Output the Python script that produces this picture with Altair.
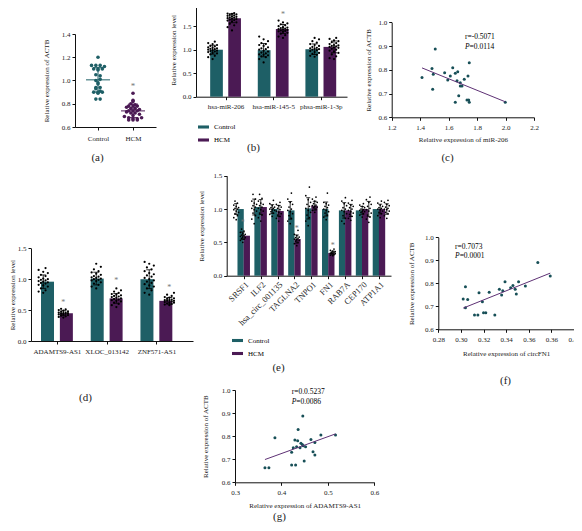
import json
import altair as alt
import numpy as np
import pandas as pd

W, H, M = 566, 515, 8
TEAL, PURPLE = "#1e5f66", "#4b1a54"
DOT, LINE = "#174f57", "#5e3175"
STAR = "#777777"
FONT = "Liberation Serif"
GROUPS = ["Control", "HCM"]

# ---------------- data ----------------
# (a) ACTB dot plot
A_control = [1.20, 1.13, 1.13, 1.13, 1.12, 1.10, 1.10, 1.09, 1.10, 1.05, 1.04, 1.00, 1.01,
             0.98, 0.97, 0.94, 0.93, 0.94, 0.90, 0.90, 0.91, 0.90, 0.89, 0.84, 0.84]
A_hcm = [0.89, 0.83, 0.82, 0.80, 0.79, 0.78, 0.78, 0.77, 0.78, 0.76, 0.76, 0.75, 0.74, 0.74,
         0.73, 0.74, 0.72, 0.72, 0.71, 0.70, 0.69, 0.68, 0.67, 0.67, 0.68, 0.66, 0.66, 0.66]
A_star = 0.955

# (b) miRNAs
B_genes = ["hsa-miR-206", "hsa-miR-145-5", "phsa-miR-1-3p"]
B_ctrl_bar = [1.00, 0.99, 1.01]
B_hcm_bar = [1.67, 1.44, 1.06]
B_ctrl_pts = [
    [1.17, 1.14, 1.12, 1.10, 1.08, 1.07, 1.05, 1.04, 1.03, 1.02, 1.01, 1.00, 0.99, 0.98, 0.97, 0.96, 0.95, 0.93, 0.92, 0.90, 0.87, 0.84, 0.80],
    [1.28, 1.22, 1.18, 1.14, 1.12, 1.10, 1.08, 1.05, 1.03, 1.01, 1.00, 0.98, 0.96, 0.94, 0.92, 0.90, 0.89, 0.88, 0.86, 0.84, 0.80, 0.73],
    [1.25, 1.22, 1.18, 1.15, 1.12, 1.10, 1.08, 1.06, 1.04, 1.03, 1.02, 1.01, 1.00, 0.99, 0.97, 0.95, 0.93, 0.91, 0.89, 0.87, 0.85],
]
B_hcm_pts = [
    [1.78, 1.77, 1.76, 1.75, 1.74, 1.73, 1.72, 1.71, 1.70, 1.69, 1.68, 1.67, 1.66, 1.65, 1.64, 1.63, 1.62, 1.60, 1.58, 1.55, 1.52, 1.48, 1.41],
    [1.62, 1.58, 1.56, 1.54, 1.52, 1.50, 1.48, 1.47, 1.46, 1.45, 1.44, 1.43, 1.42, 1.41, 1.40, 1.39, 1.38, 1.36, 1.34, 1.31, 1.28, 1.25],
    [1.25, 1.23, 1.20, 1.18, 1.16, 1.14, 1.12, 1.10, 1.09, 1.08, 1.07, 1.06, 1.05, 1.04, 1.02, 1.00, 0.98, 0.96, 0.93, 0.90, 0.86, 0.82, 0.80],
]
B_stars = [1.88, 1.74, None]

# (c) scatter miR-206 vs ACTB
C_x = [1.506, 1.413, 1.483, 1.492, 1.488, 1.572, 1.612, 1.629, 1.647, 1.664, 1.594, 1.659,
       1.682, 1.682, 1.694, 1.710, 1.736, 1.745, 1.671, 1.647, 1.729, 1.741, 1.745, 1.998]
C_y = [0.888, 0.768, 0.806, 0.781, 0.718, 0.788, 0.774, 0.809, 0.785, 0.792, 0.757, 0.754,
       0.746, 0.732, 0.732, 0.760, 0.774, 0.830, 0.691, 0.663, 0.673, 0.673, 0.663, 0.663]
C_r, C_p = "r=-0.5071", "=0.0114"

# (d) lncRNAs
D_genes = ["ADAMTS9-AS1", "XLOC_013142", "ZNF571-AS1"]
D_ctrl_bar = [0.96, 1.01, 1.00]
D_hcm_bar = [0.45, 0.69, 0.65]
D_ctrl_pts = [
    [1.18, 1.15, 1.12, 1.10, 1.07, 1.05, 1.03, 1.01, 1.00, 0.99, 0.98, 0.97, 0.96, 0.95, 0.94, 0.93, 0.91, 0.90, 0.88, 0.85, 0.82, 0.80, 0.78],
    [1.25, 1.20, 1.16, 1.13, 1.11, 1.09, 1.07, 1.05, 1.04, 1.03, 1.02, 1.01, 1.00, 0.99, 0.98, 0.97, 0.95, 0.93, 0.91, 0.88, 0.85],
    [1.28, 1.25, 1.22, 1.19, 1.16, 1.13, 1.10, 1.08, 1.06, 1.04, 1.02, 1.00, 0.98, 0.96, 0.94, 0.92, 0.90, 0.88, 0.85, 0.82, 0.78, 0.75],
]
D_hcm_pts = [
    [0.52, 0.51, 0.50, 0.49, 0.48, 0.47, 0.46, 0.46, 0.45, 0.45, 0.44, 0.44, 0.43, 0.43, 0.42, 0.41, 0.40, 0.39, 0.38],
    [0.85, 0.82, 0.80, 0.78, 0.76, 0.75, 0.74, 0.73, 0.72, 0.71, 0.70, 0.69, 0.68, 0.67, 0.66, 0.65, 0.64, 0.62, 0.60, 0.58, 0.55],
    [0.78, 0.75, 0.73, 0.71, 0.70, 0.69, 0.68, 0.67, 0.66, 0.66, 0.65, 0.65, 0.64, 0.63, 0.62, 0.62, 0.61, 0.60, 0.59, 0.58],
]
D_stars = [0.61, 0.97, 0.86]

# (e) circRNA host genes
E_genes = ["SRSF1", "ILF2", "hsa_circ_001135", "TAGLNA2", "TNPO1", "FN1", "RAB7A", "CEP170", "ATP1A1"]
E_ctrl_bar = [1.00, 1.03, 1.00, 0.98, 1.01, 1.00, 0.98, 0.98, 1.00]
E_hcm_bar = [0.60, 1.03, 0.97, 0.55, 1.05, 0.34, 0.98, 1.00, 1.00]
E_ctrl_pts = [
    [1.12, 1.09, 1.06, 1.04, 1.02, 1.01, 1.00, 0.99, 0.97, 0.95, 0.93, 0.90, 0.87, 0.84],
    [1.22, 1.15, 1.12, 1.09, 1.07, 1.05, 1.03, 1.01, 0.99, 0.97, 0.94, 0.90, 0.85, 0.78],
    [1.13, 1.08, 1.05, 1.03, 1.02, 1.01, 1.00, 0.99, 0.98, 0.96, 0.94, 0.92, 0.89],
    [1.24, 1.15, 1.10, 1.07, 1.03, 1.00, 0.98, 0.96, 0.93, 0.90, 0.86, 0.82, 0.78],
    [1.33, 1.20, 1.14, 1.10, 1.07, 1.04, 1.01, 0.98, 0.95, 0.91, 0.87, 0.82, 0.75],
    [1.24, 1.10, 1.08, 1.06, 1.04, 1.02, 1.00, 0.98, 0.96, 0.94, 0.91, 0.88, 0.84],
    [1.17, 1.12, 1.08, 1.05, 1.02, 1.00, 0.98, 0.96, 0.93, 0.90, 0.86, 0.82, 0.78],
    [1.08, 1.06, 1.04, 1.02, 1.00, 0.99, 0.98, 0.97, 0.96, 0.95, 0.93, 0.91, 0.88],
    [1.12, 1.09, 1.06, 1.04, 1.02, 1.01, 1.00, 0.99, 0.97, 0.95, 0.93, 0.90, 0.87],
]
E_hcm_pts = [
    [0.70, 0.67, 0.65, 0.63, 0.62, 0.61, 0.60, 0.59, 0.58, 0.57, 0.56, 0.55, 0.53, 0.50],
    [1.22, 1.16, 1.12, 1.09, 1.07, 1.05, 1.03, 1.01, 0.99, 0.97, 0.94, 0.91, 0.87, 0.82],
    [1.10, 1.07, 1.05, 1.03, 1.01, 0.99, 0.97, 0.95, 0.93, 0.91, 0.89, 0.86, 0.82],
    [0.68, 0.62, 0.60, 0.58, 0.57, 0.56, 0.55, 0.54, 0.53, 0.52, 0.50, 0.48, 0.45],
    [1.18, 1.15, 1.12, 1.10, 1.08, 1.06, 1.05, 1.04, 1.03, 1.02, 1.00, 0.98, 0.95],
    [0.40, 0.38, 0.37, 0.36, 0.35, 0.35, 0.34, 0.34, 0.33, 0.33, 0.32, 0.31, 0.30],
    [1.13, 1.09, 1.06, 1.04, 1.02, 1.00, 0.98, 0.96, 0.94, 0.92, 0.89, 0.86, 0.83],
    [1.18, 1.14, 1.10, 1.07, 1.04, 1.01, 0.99, 0.97, 0.94, 0.91, 0.88, 0.85, 0.80],
    [1.13, 1.10, 1.07, 1.05, 1.03, 1.01, 1.00, 0.99, 0.97, 0.95, 0.93, 0.90, 0.86],
]
E_stars = [0.79, None, None, 0.70, None, 0.45, None, None, None]

# (f) scatter circFN1 vs ACTB
F_x = [0.368, 0.379, 0.304, 0.302, 0.306, 0.304, 0.312, 0.315, 0.320, 0.322, 0.330, 0.316,
       0.319, 0.325, 0.334, 0.336, 0.337, 0.339, 0.344, 0.346, 0.348, 0.349, 0.351, 0.357]
F_y = [0.890, 0.832, 0.785, 0.732, 0.730, 0.694, 0.662, 0.662, 0.672, 0.672, 0.662, 0.759,
       0.720, 0.761, 0.774, 0.749, 0.768, 0.807, 0.781, 0.790, 0.774, 0.753, 0.807, 0.788]
F_ticks = [0.28, 0.30, 0.32, 0.34, 0.36, 0.38, 0.40]
F_ticklabels = ["0.28", "0.30", "0.32", "0.34", "0.36", "0.36", "0.40"]
F_r, F_p = "r=0.7073", "=0.0001"

# (g) scatter ADAMTS9-AS1 vs ACTB
G_x = [0.3645, 0.373, 0.386, 0.422, 0.4305, 0.422, 0.4255, 0.429, 0.435, 0.436, 0.446, 0.4327,
       0.440, 0.442, 0.445, 0.447, 0.452, 0.449, 0.4635, 0.472, 0.468, 0.472, 0.485, 0.5165]
G_y = [0.663, 0.663, 0.793, 0.675, 0.675, 0.730, 0.750, 0.783, 0.780, 0.829, 0.887, 0.754,
       0.750, 0.769, 0.764, 0.758, 0.754, 0.692, 0.786, 0.773, 0.732, 0.718, 0.805, 0.805]
G_r, G_p = "r=0.0.5237", "=0.0086"

CAPTIONS = ["(a)", "(b)", "(c)", "(d)", "(e)", "(f)", "(g)"]


# ---------------- helpers ----------------
def vx(p):
    return p - M


def vy(p):
    return p - M


def bin_swarm(vals, binw, step):
    vals = np.asarray(vals, float)
    keys = np.round(vals / binw).astype(int)
    off = np.zeros(len(vals))
    for k in np.unique(keys):
        idx = np.where(keys == k)[0]
        n = len(idx)
        off[idx] = (np.arange(n) - (n - 1) / 2) * step
    return off


def cyc_swarm(vals, step):
    pattern = [0, -2, 1, -1, 2]
    order = np.argsort(vals)
    off = np.zeros(len(vals))
    for r, i in enumerate(order):
        off[i] = pattern[r % len(pattern)] * step
    return off


def xaxis(axis_page_y, **kw):
    return alt.Axis(orient="bottom", offset=vy(axis_page_y) - H, grid=False, tickSize=3, **kw)


def yaxis(axis_page_x, **kw):
    return alt.Axis(orient="left", offset=-vx(axis_page_x), grid=False, tickSize=3, **kw)


def cat_expr(names):
    return "[" + ",".join(json.dumps(n) for n in names) + "][round(datum.value)]"


def caption(label, cx, cy):
    return alt.Chart(pd.DataFrame({"c": [0]})).mark_point(opacity=0).encode(
        x=alt.X("c:Q", axis=alt.Axis(orient="bottom", offset=0, domain=False, ticks=False,
                                      labels=False, grid=False, title=label,
                                      titleX=vx(cx), titleY=vy(cy) - H,
                                      titleBaseline="middle", titleFontSize=11))
    )


def one_row(**kw):
    return pd.DataFrame({k: [v] for k, v in kw.items()})


color_scale = alt.Scale(domain=GROUPS, range=[TEAL, PURPLE])


# ---------------- panel (a) ----------------
def panel_a():
    left, right, c0, step = 75, 156, 98, 35
    bottom, top = 127, 34
    xs = alt.Scale(domain=[(left - c0) / step, (right - c0) / step], range=[vx(left), vx(right)], nice=False, zero=False)
    ys = alt.Scale(domain=[0.6, 1.4], range=[vy(bottom), vy(top)], nice=False, zero=False)
    rows, stats = [], []
    for gi, vals in enumerate([A_control, A_hcm]):
        offs = bin_swarm(vals, 0.02, 4.3 / step)
        for v, o in zip(vals, offs):
            rows.append({"g": GROUPS[gi], "x": gi + o, "v": v})
        m, s = float(np.mean(vals)), float(np.std(vals, ddof=1))
        stats.append({"g": GROUPS[gi], "x": gi, "m": m, "lo": m - s, "hi": m + s,
                      "ml": gi - 12 / step, "mr": gi + 12 / step,
                      "cl": gi - 5 / step, "cr": gi + 5 / step})
    df, st = pd.DataFrame(rows), pd.DataFrame(stats)
    col = alt.Color("g:N", scale=color_scale, legend=None)
    pts = alt.Chart(df).mark_circle(size=13, opacity=1).encode(
        x=alt.X("x:Q", scale=xs, axis=xaxis(bottom, values=[0, 1], labelExpr=cat_expr(GROUPS), title=None, labelPadding=4)),
        y=alt.Y("v:Q", scale=ys, axis=yaxis(left, values=[0.6, 0.8, 1.0, 1.2, 1.4], format=".1f",
                                             title="Relative expression of ACTB", titleX=46 - left,
                                             titleBaseline="middle")),
        color=col,
    )
    mean = alt.Chart(st).mark_rule(strokeWidth=1).encode(
        x=alt.X("ml:Q", scale=xs, axis=None), x2="mr:Q", y=alt.Y("m:Q", scale=ys, axis=None), color=col)
    sd = alt.Chart(st).mark_rule(strokeWidth=1).encode(
        x=alt.X("x:Q", scale=xs, axis=None), y=alt.Y("lo:Q", scale=ys, axis=None), y2="hi:Q", color=col)
    cap_lo = alt.Chart(st).mark_rule(strokeWidth=1).encode(
        x=alt.X("cl:Q", scale=xs, axis=None), x2="cr:Q", y=alt.Y("lo:Q", scale=ys, axis=None), color=col)
    cap_hi = alt.Chart(st).mark_rule(strokeWidth=1).encode(
        x=alt.X("cl:Q", scale=xs, axis=None), x2="cr:Q", y=alt.Y("hi:Q", scale=ys, axis=None), color=col)
    star = alt.Chart(one_row(x=1, v=A_star)).mark_text(
        text="*", font=FONT, fontSize=9, color=STAR, baseline="middle").encode(
        x=alt.X("x:Q", scale=xs, axis=None), y=alt.Y("v:Q", scale=ys, axis=None))
    return [pts, mean, sd, cap_lo, cap_hi, star]


# ---------------- bar panels (b, d, e) ----------------
def bar_panel(genes, cbar, hbar, cpts, hpts, stars, left, right, c0, step, bottom, top, ymax,
              off, bar_w, pt_step, pt_size, cap_px, ytitle_x, label_angle, legend_pos):
    xs = alt.Scale(domain=[(left - c0) / step, (right - c0) / step], range=[vx(left), vx(right)], nice=False, zero=False)
    ys = alt.Scale(domain=[0, ymax], range=[vy(bottom), vy(top)], nice=False, zero=False)
    bars, pts, errs, st = [], [], [], []
    for gi in range(len(genes)):
        for grp, hv, vals, sgn in (("Control", cbar[gi], cpts[gi], -1), ("HCM", hbar[gi], hpts[gi], 1)):
            xc = gi + sgn * off
            bars.append({"g": grp, "x": xc, "v": hv})
            for v, o in zip(vals, cyc_swarm(vals, pt_step)):
                pts.append({"x": xc + o, "v": v})
            s = float(np.std(vals, ddof=1))
            errs.append({"x": xc, "lo": hv - s, "hi": hv + s,
                         "cl": xc - cap_px / step, "cr": xc + cap_px / step})
        if stars[gi] is not None:
            st.append({"x": gi + off, "v": stars[gi]})
    if legend_pos is None:
        legend = None
    else:
        legend = alt.Legend(orient="none", legendX=vx(legend_pos[0]), legendY=vy(legend_pos[1]),
                            title=None, symbolType="M-1,-0.28H1V0.28H-1Z", symbolSize=121,
                            symbolStrokeWidth=0, labelFont=FONT, labelFontSize=7, labelOffset=5,
                            rowPadding=4, padding=0)
    xaxis_kw = dict(values=list(range(len(genes))), labelExpr=cat_expr(genes), title=None, labelPadding=3)
    if label_angle:
        xaxis_kw.update(labelAngle=label_angle, labelAlign="right", labelBaseline="top", labelPadding=1,
                        labelFontSize=8.5)
    yticks = [round(float(t), 2) for t in np.arange(0, ymax + 0.01, 0.5)]
    b = alt.Chart(pd.DataFrame(bars)).mark_bar(size=bar_w, orient="vertical").encode(
        x=alt.X("x:Q", scale=xs, axis=xaxis(bottom, **xaxis_kw)),
        y=alt.Y("v:Q", scale=ys, axis=yaxis(left, values=yticks, format=".1f",
                                             title="Relative expression level", titleX=ytitle_x - left,
                                             titleBaseline="middle")),
        color=alt.Color("g:N", scale=color_scale, legend=legend),
    )
    p = alt.Chart(pd.DataFrame(pts)).mark_circle(size=pt_size, color="black", opacity=1).encode(
        x=alt.X("x:Q", scale=xs, axis=None), y=alt.Y("v:Q", scale=ys, axis=None))
    ed = pd.DataFrame(errs)
    e1 = alt.Chart(ed).mark_rule(color="black", strokeWidth=0.8).encode(
        x=alt.X("x:Q", scale=xs, axis=None), y=alt.Y("lo:Q", scale=ys, axis=None), y2="hi:Q")
    e2 = alt.Chart(ed).mark_rule(color="black", strokeWidth=0.8).encode(
        x=alt.X("cl:Q", scale=xs, axis=None), x2="cr:Q", y=alt.Y("hi:Q", scale=ys, axis=None))
    e3 = alt.Chart(ed).mark_rule(color="black", strokeWidth=0.8).encode(
        x=alt.X("cl:Q", scale=xs, axis=None), x2="cr:Q", y=alt.Y("lo:Q", scale=ys, axis=None))
    s = alt.Chart(pd.DataFrame(st)).mark_text(text="*", font=FONT, fontSize=8, color=STAR, baseline="middle").encode(
        x=alt.X("x:Q", scale=xs, axis=None), y=alt.Y("v:Q", scale=ys, axis=None))
    return [b, p, e1, e2, e3, s]


# ---------------- scatter panels (c, f, g) ----------------
def scatter_panel(xv, yv, xdom, left, right, bottom, top, xticks, xfmt, xlabels, xtitle, xtitle_y,
                  ytitle_x, r_txt, p_txt, tx, ty1, ty2):
    xs = alt.Scale(domain=xdom, range=[vx(left), vx(right)], nice=False, zero=False)
    ys = alt.Scale(domain=[0.6, 1.0], range=[vy(bottom), vy(top)], nice=False, zero=False)
    df = pd.DataFrame({"x": xv, "y": yv})
    xa = dict(values=xticks, format=xfmt, title=xtitle, titleY=xtitle_y - bottom, titleBaseline="middle", labelPadding=3)
    if xlabels is not None:
        xa["labelExpr"] = "[" + ",".join(json.dumps(t) for t in xlabels) + "][round((datum.value-%g)/%g)]" % (
            xticks[0], xticks[1] - xticks[0])
    pts = alt.Chart(df).mark_circle(size=9, color=DOT, opacity=1).encode(
        x=alt.X("x:Q", scale=xs, axis=xaxis(bottom, **xa)),
        y=alt.Y("y:Q", scale=ys, axis=yaxis(left, values=[0.6, 0.7, 0.8, 0.9, 1.0], format=".1f",
                                             title="Relative expression of ACTB", titleX=ytitle_x - left,
                                             titleBaseline="middle")),
    )
    line = alt.Chart(df).transform_regression("x", "y").mark_line(color=LINE, strokeWidth=1).encode(
        x=alt.X("x:Q", scale=xs, axis=None), y=alt.Y("y:Q", scale=ys, axis=None))
    ann = pd.DataFrame({"x": [tx, tx, tx], "y": [ty1, ty2, ty2], "t": [r_txt, "P", p_txt],
                        "k": ["r", "P", "v"]})
    t1 = alt.Chart(ann).transform_filter("datum.k == 'r'").mark_text(
        align="left", baseline="middle", font=FONT, fontSize=7.5).encode(
        x=alt.X("x:Q", scale=xs, axis=None), y=alt.Y("y:Q", scale=ys, axis=None), text="t:N")
    t2 = alt.Chart(ann).transform_filter("datum.k == 'P'").mark_text(
        align="left", baseline="middle", font=FONT, fontSize=7.5, fontStyle="italic").encode(
        x=alt.X("x:Q", scale=xs, axis=None), y=alt.Y("y:Q", scale=ys, axis=None), text="t:N")
    t3 = alt.Chart(ann).transform_filter("datum.k == 'v'").mark_text(
        align="left", baseline="middle", font=FONT, fontSize=7.5, dx=4.6).encode(
        x=alt.X("x:Q", scale=xs, axis=None), y=alt.Y("y:Q", scale=ys, axis=None), text="t:N")
    return [pts, line, t1, t2, t3]


layers = []
layers += panel_a()
layers += bar_panel(B_genes, B_ctrl_bar, B_hcm_bar, B_ctrl_pts, B_hcm_pts, B_stars,
                    left=196, right=347, c0=222.3, step=51, bottom=96.7, top=2.7, ymax=2.0,
                    off=0.19, bar_w=12.7, pt_step=2.2 / 51, pt_size=5, cap_px=3, ytitle_x=173,
                    label_angle=0, legend_pos=(198, 121.5))
layers += scatter_panel(C_x, C_y, [1.2, 2.2], 391.7, 534, 117.3, 22.3, [1.2, 1.4, 1.6, 1.8, 2.0, 2.2], ".1f", None,
                        "Relative expression of miR-206", 139.3, 368, C_r, C_p, 1.715, 0.938, 0.896)
layers += bar_panel(D_genes, D_ctrl_bar, D_hcm_bar, D_ctrl_pts, D_hcm_pts, D_stars,
                    left=31, right=193, c0=53.3, step=53, bottom=341, top=248.3, ymax=1.5,
                    off=0.19, bar_w=13, pt_step=2.3 / 53, pt_size=5, cap_px=3, ytitle_x=12,
                    label_angle=0, legend_pos=None)
layers += bar_panel(E_genes, E_ctrl_bar, E_hcm_bar, E_ctrl_pts, E_hcm_pts, E_stars,
                    left=226.7, right=391, c0=239.5, step=18, bottom=275.7, top=175.7, ymax=1.5,
                    off=0.183, bar_w=6.3, pt_step=1.2 / 18, pt_size=3, cap_px=2, ytitle_x=201.7,
                    label_angle=-45, legend_pos=(232, 335))
layers += scatter_panel(F_x, F_y, [0.28, 0.40], 438.3, 574, 329.3, 237.3, F_ticks, ".2f", F_ticklabels,
                        "Relative expression of circFN1", 353.3, 411.7, F_r, F_p, 0.2948, 0.958, 0.919)
layers += scatter_panel(G_x, G_y, [0.3, 0.6], 235, 374.3, 482.3, 390, [0.3, 0.4, 0.5, 0.6], ".1f", None,
                        "Relative expression of ADAMTS9-AS1", 505.7, 205, G_r, G_p, 0.422, 0.99, 0.946)

cap_pos = [(97, 157), (253, 147), (447, 157), (85, 397), (278, 367), (505, 380), (279, 516)]
layers += [caption(t, x, y) for t, (x, y) in zip(CAPTIONS, cap_pos)]

chart = alt.layer(*layers).resolve_scale(
    x="independent", y="independent", color="independent"
).properties(
    width=W, height=H, autosize=alt.AutoSizeParams(type="none"), padding=0
).configure_axis(
    labelFont=FONT, titleFont=FONT, labelFontSize=7, titleFontSize=7, titleFontWeight="normal",
    domainColor="#111111", tickColor="#111111", labelColor="#222222", titleColor="#222222",
    domainWidth=1, tickWidth=1, labelFlush=False, labelOverlap=False, labelBound=False,
).configure_view(stroke="transparent").configure_legend(labelFont=FONT)

chart.save("out.html", embed_options={"renderer": "svg", "actions": False})
